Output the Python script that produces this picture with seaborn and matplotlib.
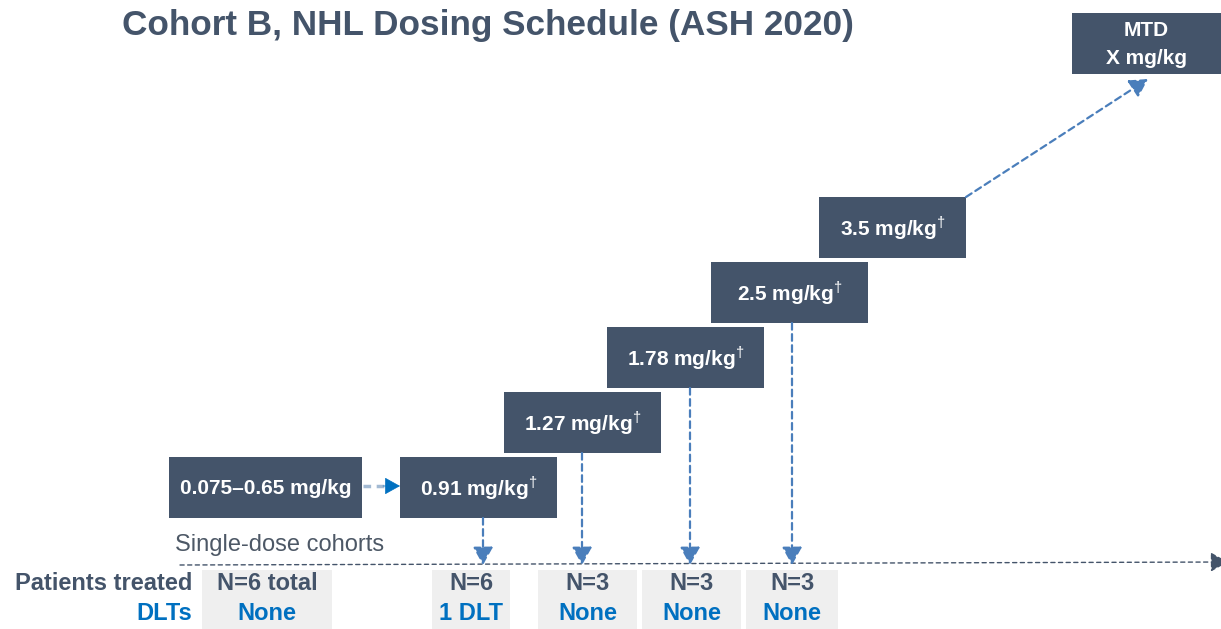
"""
Cohort B, NHL dosing schedule (ASH 2020) - dose escalation diagram.
"""

import matplotlib.pyplot as plt
import seaborn as sns
from matplotlib.patches import Rectangle, FancyArrowPatch

# Dose levels and their labels.
dose_labels = [
    "0.075\u20130.65 mg/kg",
    "0.91 mg/kg$^{\\dagger}$",
    "1.27 mg/kg$^{\\dagger}$",
    "1.78 mg/kg$^{\\dagger}$",
    "2.5 mg/kg$^{\\dagger}$",
    "3.5 mg/kg$^{\\dagger}$",
    "MTD\nX mg/kg",
]
patients_treated = ["N=6 total", "N=6", "N=3", "N=3", "N=3"]
dlts = ["None", "1 DLT", "None", "None", "None"]

# Layout in pixel coordinates (left, top, right, bottom).
dose_boxes = [
    (169, 457, 362, 518),
    (400, 457, 557, 518),
    (504, 392, 661, 453),
    (607, 327, 764, 388),
    (711, 262, 868, 323),
    (819, 197, 966, 258),
    (1072, 13, 1221, 74),
]
drop_x = [483, 582, 690, 792]
result_boxes = [(202, 332), (432, 510), (538, 637), (642, 741), (746, 838)]

DARK = "#44546a"
BLUE = "#0070c0"
ARROW_BLUE = "#4a7ebb"
LIGHT = "#efefef"
FONT = ["Liberation Sans", "DejaVu Sans"]
HEAD = "-|>,head_length=0.45,head_width=0.25"


def draw_schedule() -> None:
    sns.set_theme(style="white")
    plt.rcParams["font.family"] = FONT
    plt.rcParams["mathtext.fontset"] = "custom"
    plt.rcParams["mathtext.rm"] = "Liberation Sans"

    fig = plt.figure(figsize=(12.21, 6.29), dpi=100)
    ax = fig.add_axes([0, 0, 1, 1])
    ax.set_xlim(0, 1221)
    ax.set_ylim(629, 0)
    ax.axis("off")

    ax.text(122, 25, "Cohort B, NHL Dosing Schedule (ASH 2020)", fontsize=25.3,
            fontweight="bold", color=DARK, va="center", ha="left")

    # Dose boxes.
    for label, (x0, y0, x1, y1) in zip(dose_labels, dose_boxes):
        ax.add_patch(Rectangle((x0, y0), x1 - x0, y1 - y0, facecolor=DARK,
                               edgecolor="none", zorder=2))
        ax.text((x0 + x1) / 2, (y0 + y1) / 2 + 1, label, color="white",
                fontsize=15, fontweight="bold", ha="center", va="center",
                linespacing=1.6, zorder=3)

    # Arrow from single-dose cohort to 0.91 mg/kg.
    ax.plot([363, 385], [486, 486], color="#a3bad3", lw=2.5,
            linestyle=(0, (2.2, 1.6)), zorder=2)
    ax.add_patch(FancyArrowPatch((383, 486), (400, 486), arrowstyle=HEAD,
                                 mutation_scale=22, color=BLUE, lw=0.5,
                                 shrinkA=0, shrinkB=0, zorder=3))

    # Vertical arrows down to the timeline.
    for xc, (x0, y0, x1, y1) in zip(drop_x, dose_boxes[1:5]):
        ax.add_patch(FancyArrowPatch((xc, y1), (xc, 565), arrowstyle=HEAD,
                                     mutation_scale=24, color=ARROW_BLUE,
                                     linestyle=(0, (3, 2)), lw=1.6,
                                     shrinkA=0, shrinkB=0, zorder=3))

    # Diagonal arrow to MTD.
    ax.add_patch(FancyArrowPatch((966, 197), (1148, 79), arrowstyle=HEAD,
                                 mutation_scale=24, color=ARROW_BLUE,
                                 linestyle=(0, (3, 2)), lw=1.6,
                                 shrinkA=0, shrinkB=0, zorder=3))

    # Timeline.
    ax.add_patch(FancyArrowPatch((180, 565), (1228, 562), arrowstyle=HEAD,
                                 mutation_scale=24, color=DARK,
                                 linestyle=(0, (3, 2.5)), lw=1.0,
                                 shrinkA=0, shrinkB=0, zorder=2))
    ax.text(175, 545, "Single-dose cohorts", fontsize=17, color="#4d5866",
            ha="left", va="center")

    # Results table.
    ax.text(192, 584, "Patients treated", fontsize=17, fontweight="bold",
            color=DARK, ha="right", va="center")
    ax.text(192, 613, "DLTs", fontsize=17, fontweight="bold",
            color=BLUE, ha="right", va="center")
    for n_text, dlt_text, (x0, x1) in zip(patients_treated, dlts,
                                          result_boxes):
        ax.add_patch(Rectangle((x0, 570), x1 - x0, 59, facecolor=LIGHT,
                               edgecolor="none", zorder=1))
        ax.text((x0 + x1) / 2, 584, n_text, fontsize=17, fontweight="bold",
                color=DARK, ha="center", va="center")
        ax.text((x0 + x1) / 2, 613, dlt_text, fontsize=17, fontweight="bold",
                color=BLUE, ha="center", va="center")

    fig.savefig("out.png", dpi=100)


if __name__ == "__main__":
    draw_schedule()
